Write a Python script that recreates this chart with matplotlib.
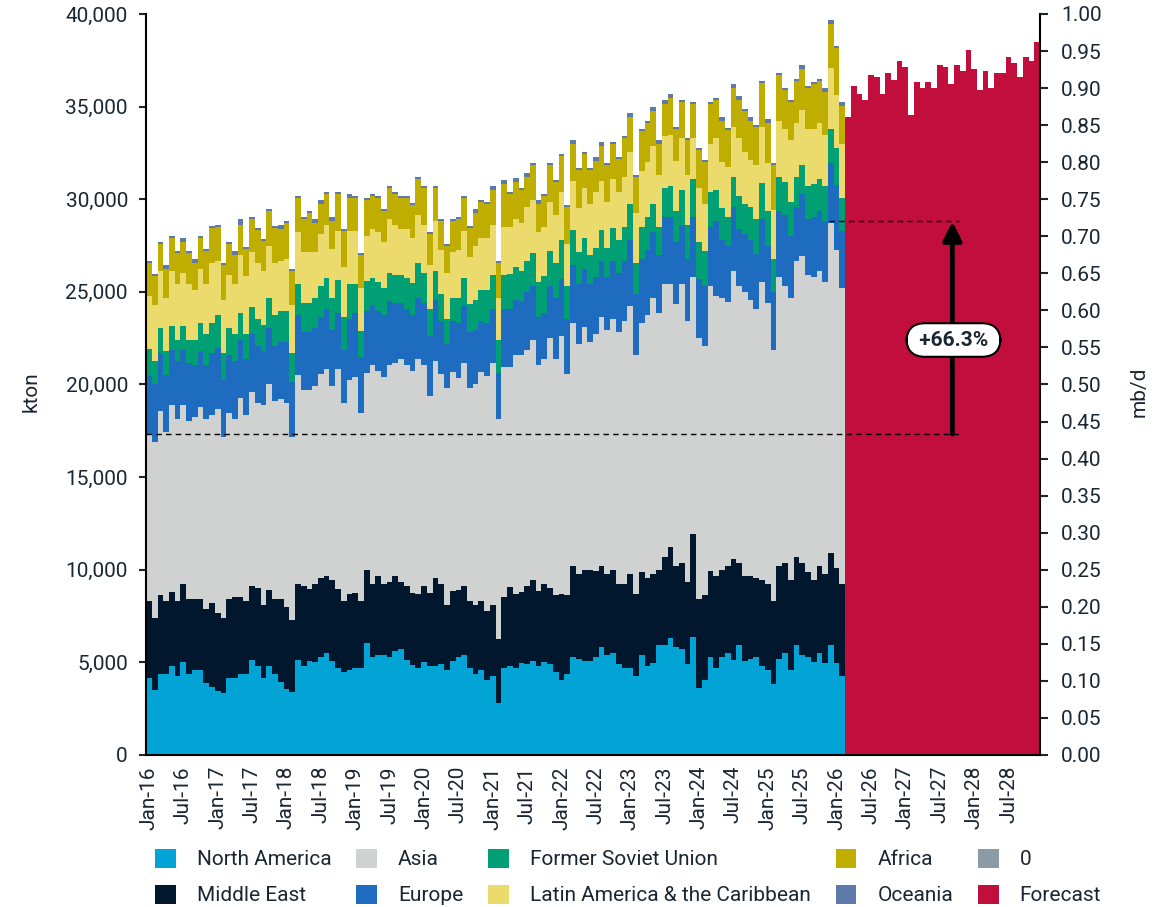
import matplotlib
matplotlib.use("Agg")
import matplotlib.pyplot as plt
from matplotlib.patches import Patch
import numpy as np
import pandas as pd

plt.rcParams['font.family'] = ['Roboto', 'DejaVu Sans']

# monthly kton, Jan-16 .. Feb-26 (historical)
north_america = [4175, 3509, 4372, 4372, 4804, 4264, 5020, 4372, 4588, 4588,
                 3887, 3671, 3455, 3347, 4156, 4156, 4372, 4372, 5128, 4804,
                 4156, 4804, 4372, 3941, 3563, 3401, 5128, 4804, 5074, 5020,
                 5290, 5506, 5074, 4696, 4480, 4588, 4696, 4696, 6046, 5290,
                 5398, 5398, 5290, 5614, 5722, 5128, 4858, 4696, 5020, 4804,
                 4804, 4912, 4588, 5074, 5290, 5398, 4696, 4372, 4588, 4048,
                 4264, 2807, 4696, 4804, 4696, 4966, 4912, 5074, 4804, 5020,
                 4912, 4480, 4048, 4372, 5290, 5182, 5074, 5074, 5290, 5830,
                 5398, 5506, 4912, 4696, 4696, 4264, 5398, 4804, 4966, 5938,
                 5938, 6316, 5830, 5722, 4912, 6370, 3617, 4048, 5290, 4696,
                 5290, 5506, 5128, 5938, 5074, 5182, 5290, 4804, 4588, 3833,
                 5182, 5506, 4588, 5938, 5398, 5290, 5020, 5506, 4966, 5938,
                 4966, 4264]
middle_east = [4138, 3886, 4265, 3941, 3995, 4049, 4211, 4049, 3833, 3833,
               3994, 4534, 4210, 4048, 4265, 4373, 4157, 3941, 3995, 4211,
               3941, 4103, 4049, 4480, 4426, 3886, 4103, 4319, 3887, 4211,
               4265, 4157, 4373, 4265, 3833, 4103, 4049, 3617, 3940, 3941,
               4265, 3833, 4049, 4049, 3617, 3995, 3887, 3995, 4103, 3941,
               4751, 4319, 3509, 3779, 3617, 3725, 3617, 3725, 3725, 3725,
               3833, 3455, 3833, 4265, 3995, 3833, 4211, 4373, 4049, 4211,
               4103, 4157, 4643, 4265, 4912, 4589, 4912, 4912, 4642, 4372,
               4373, 4480, 4319, 4535, 5075, 4427, 4480, 4751, 4805, 4048,
               4750, 4912, 4372, 4642, 4427, 5560, 4804, 4589, 4642, 4967,
               4696, 4696, 5452, 4426, 4589, 4481, 4265, 4643, 4643, 4480,
               5020, 4858, 4859, 4750, 4966, 4588, 4427, 4696, 4805, 4966,
               5128, 4967]
asia = [9018, 9504, 9935, 9125, 10097, 9827, 9665, 9611, 9827, 10367,
        10259, 10151, 11015, 9756, 10043, 9611, 10744, 10043, 10474, 9989,
        10799, 11122, 10691, 10798, 11015, 9864, 11284, 10582, 10744, 10690,
        11014, 11176, 10474, 11878, 10691, 11554, 11662, 10151, 10637, 11823,
        11068, 11177, 11716, 11500, 12040, 11932, 11986, 12688, 11932, 10655,
        11716, 11339, 11717, 11824, 11447, 12040, 11501, 11933, 12364, 12689,
        13066, 11879, 12418, 11878, 12904, 12796, 12742, 12957, 12202, 12148,
        13497, 12742, 13929, 11933, 13120, 12418, 13120, 12311, 12796, 13444,
        13173, 13552, 13606, 14199, 14469, 12904, 13444, 14199, 14900, 13876,
        14739, 14199, 14146, 15063, 14091, 13875, 14092, 13444, 15387, 15116,
        14685, 14254, 15549, 14955, 15332, 14901, 14523, 16088, 15171, 13552,
        15603, 14955, 15224, 15980, 16574, 16035, 16358, 15927, 15764, 17800,
        17168, 15980]
europe = [3132, 3132, 3132, 3078, 2970, 3132, 2970, 3132, 2808, 3024,
          2916, 3348, 3294, 3096, 3132, 3132, 3132, 3024, 3132, 3078,
          2916, 3024, 2970, 3078, 3294, 2988, 3240, 3132, 3132, 3132,
          3078, 3240, 3024, 3024, 2862, 3294, 3456, 3024, 3348, 3240,
          3240, 3348, 3456, 3240, 3024, 3024, 3024, 3294, 3348, 3222,
          3294, 2862, 2376, 2754, 2970, 3132, 3024, 2916, 2754, 2862,
          2916, 2484, 3132, 3132, 2970, 2862, 3132, 2916, 2592, 2484,
          2808, 3294, 3078, 2970, 3132, 3240, 3132, 3132, 3078, 3024,
          2862, 3132, 3186, 3240, 3564, 3294, 3456, 3510, 3564, 3132,
          3618, 3618, 3348, 3186, 3348, 3240, 3186, 3240, 3186, 4050,
          3132, 3024, 3456, 3078, 3132, 3240, 2970, 3402, 3078, 3132,
          3564, 3834, 3348, 2916, 3348, 3024, 3240, 3240, 3294, 3240,
          3510, 3078]
former_soviet_union = [1458, 1242, 1350, 1296, 1296, 1134, 1296, 1242, 1350, 1512,
                       1674, 1620, 1782, 1458, 1458, 1458, 1458, 1350, 1458, 1458,
                       1404, 1620, 1674, 1674, 1674, 1566, 1674, 1566, 1566, 1620,
                       1674, 1674, 1728, 1782, 1782, 1890, 1566, 1404, 1620, 1458,
                       1566, 1458, 1512, 1512, 1512, 1674, 1728, 1890, 1620, 1458,
                       1566, 1458, 1350, 1242, 1350, 1458, 1512, 1620, 1674, 1782,
                       1836, 1782, 1836, 1890, 1782, 1674, 1674, 1782, 1890, 1998,
                       1890, 1890, 2106, 1782, 1890, 1728, 1674, 1566, 1566, 1674,
                       1566, 1782, 1782, 1836, 1944, 1674, 1728, 1782, 1512, 1512,
                       1566, 1674, 1674, 1890, 1836, 2052, 1998, 1890, 1890, 1674,
                       1728, 1566, 1620, 1782, 1620, 1782, 1890, 1944, 1890, 1782,
                       1836, 1782, 1836, 1620, 1566, 1782, 1782, 1728, 1890, 1836,
                       1998, 1782]
latin_america = [2862, 3024, 3078, 2862, 2970, 3024, 2862, 3024, 2700, 2916,
                 2700, 3240, 2916, 2862, 2862, 2700, 3132, 3132, 2970, 3024,
                 2916, 2808, 2808, 2700, 2808, 2592, 2808, 2754, 2754, 2484,
                 2808, 2862, 2646, 2646, 2700, 2862, 2862, 2322, 2430, 2646,
                 2700, 2484, 2916, 2700, 2484, 2646, 2430, 2592, 2592, 2376,
                 2700, 2376, 2484, 2484, 2592, 2538, 2538, 2916, 2808, 2808,
                 2700, 2268, 2592, 2538, 2592, 2592, 2916, 2862, 2700, 2646,
                 2646, 2592, 2592, 2268, 2646, 2376, 2700, 2754, 3024, 2646,
                 2484, 2646, 2592, 2700, 2808, 2700, 3024, 2970, 3132, 2808,
                 2808, 2754, 2700, 2808, 2700, 2214, 2916, 2538, 2592, 2808,
                 2484, 2700, 2700, 3132, 2808, 2538, 2916, 3024, 2592, 2646,
                 3024, 2862, 3348, 2916, 2970, 3078, 2970, 3024, 2754, 3294,
                 2862, 2916]
africa = [1782, 1566, 1458, 1566, 1782, 1674, 1674, 1674, 1458, 1674,
          1782, 1890, 1836, 1890, 1674, 1566, 1620, 1458, 1782, 1782,
          1620, 1890, 1890, 1728, 1944, 1836, 1836, 1782, 2106, 1566,
          1620, 1674, 1512, 1998, 1944, 1782, 1782, 1782, 1944, 1782,
          1836, 1674, 1674, 1674, 1674, 1674, 1782, 1944, 1998, 1674,
          1782, 1566, 1458, 1674, 1674, 1782, 1566, 1782, 1944, 1836,
          1890, 1890, 2322, 1782, 1998, 1782, 1620, 1890, 1512, 1674,
          1998, 1782, 1944, 1998, 1998, 2052, 1836, 1836, 1674, 1890,
          1998, 1890, 1782, 2106, 1890, 1944, 2160, 2106, 1890, 1674,
          1728, 1998, 1728, 1944, 1890, 1836, 2052, 2268, 2160, 2052,
          2214, 1998, 2106, 2052, 2214, 2106, 2052, 2376, 2160, 2430,
          2484, 2106, 2052, 2268, 2214, 2214, 2430, 2268, 2322, 2400,
          2538, 2052]
oceania = [108, 108, 108, 216, 108, 108, 216, 108, 216, 108,
           108, 108, 108, 108, 108, 216, 324, 108, 108, 108,
           108, 108, 108, 216, 108, 108, 108, 108, 108, 216,
           216, 108, 216, 108, 108, 216, 108, 108, 108, 108,
           108, 108, 108, 108, 108, 108, 108, 108, 108, 108,
           108, 108, 108, 108, 108, 108, 108, 216, 108, 108,
           216, 108, 216, 108, 216, 108, 216, 108, 216, 108,
           108, 108, 108, 108, 216, 108, 108, 108, 216, 216,
           108, 108, 108, 108, 216, 108, 108, 108, 216, 216,
           216, 216, 108, 108, 108, 108, 108, 108, 108, 108,
           216, 108, 216, 216, 108, 216, 108, 108, 216, 108,
           108, 108, 108, 108, 216, 108, 108, 108, 216, 216,
           108, 216]
other_zero = [0] * 122

# forecast totals, Mar-26 .. Dec-28
forecast = [34440, 36113, 35681, 35358, 36707, 36599, 35681, 36815, 36437, 37462,
            37139, 34548, 36329, 36005, 36329, 36005, 37246, 37139, 36221, 37246,
            36923, 38056, 37031, 35897, 36923, 36005, 36815, 36815, 37678, 37354,
            36599, 37678, 37462, 38488]

series = [
    ("North America", north_america, "#02A4D5"),
    ("Middle East", middle_east, "#00172D"),
    ("Asia", asia, "#D0D2D1"),
    ("Europe", europe, "#1E6CC0"),
    ("Former Soviet Union", former_soviet_union, "#00A074"),
    ("Latin America & the Caribbean", latin_america, "#EADB6C"),
    ("Africa", africa, "#BFAE00"),
    ("Oceania", oceania, "#5E7AAB"),
    ("0", other_zero, "#8C9AA6"),
]
forecast_color = "#C20E3C"
text_color = "#1B2633"

n_hist = len(north_america)
n_all = n_hist + len(forecast)
x = np.arange(n_all)
months = pd.date_range("2016-01-01", periods=n_all, freq="MS")
month_labels = months.strftime("%b-%y")

fig = plt.figure(figsize=(11.61, 9.07), dpi=100)
ax = fig.add_axes([0.1258, 0.1676, 0.7700, 0.8170])

bottom = np.zeros(n_hist)
handles = []
for name, vals, col in series:
    vals = np.array(vals, dtype=float)
    ax.bar(x[:n_hist], vals, bottom=bottom, width=1.0, color=col, linewidth=0)
    bottom += vals
    handles.append(Patch(facecolor=col, label=name))
ax.bar(x[n_hist:], forecast, width=1.0, color=forecast_color, linewidth=0)
handles.append(Patch(facecolor=forecast_color, label="Forecast"))

ax.set_xlim(-0.5, n_all - 0.5)
ax.set_ylim(0, 40000)
ax.set_yticks(np.arange(0, 40001, 5000))
ax.set_yticklabels([f"{v:,}" for v in range(0, 40001, 5000)])
ax.set_xticks(x[::6])
ax.set_xticklabels(month_labels[::6], rotation=90)
ax.tick_params(axis="x", length=0, pad=8, labelsize=15, colors=text_color)
ax.tick_params(axis="y", length=5, width=1.5, pad=8, labelsize=15, colors=text_color)
ax.set_ylabel("kton", fontsize=15, color=text_color)
ax.yaxis.set_label_coords(-0.118, 0.49)
for s in ["left", "bottom"]:
    ax.spines[s].set_linewidth(1.5)
ax.spines["top"].set_visible(False)
ax.spines["right"].set_visible(False)

ax2 = ax.twinx()
ax2.set_ylim(0, 1)
rt = np.arange(0, 1.0001, 0.05)
ax2.set_yticks(rt)
ax2.set_yticklabels([f"{v:.2f}" for v in rt])
ax2.tick_params(axis="y", length=6, width=1.5, pad=9, labelsize=15, colors=text_color)
ax2.set_ylabel("mb/d", fontsize=15, color=text_color)
ax2.yaxis.set_label_coords(1.10, 0.49)
ax2.spines["right"].set_linewidth(1.5)
ax2.spines["top"].set_visible(False)
ax2.spines["left"].set_visible(False)
ax2.spines["bottom"].set_visible(False)

# growth annotation
low, high = 17330, 28800
ax.hlines(low, -0.5, 141.4, colors="black", linestyles=(0, (4, 3)), lw=1, zorder=5)
ax.hlines(high, 118.7, 141.4, colors="black", linestyles=(0, (4, 3)), lw=1, zorder=5)
ax.annotate("", xy=(140.2, high), xytext=(140.2, low),
            arrowprops=dict(arrowstyle="-|>", lw=3.5, color="black", mutation_scale=28,
                            shrinkA=0, shrinkB=0), zorder=6)
ax.text(140.4, 22400, " +66.3% ", ha="center", va="center", fontsize=15,
        fontweight="bold", color=text_color, zorder=7,
        bbox=dict(boxstyle="round,pad=0.35,rounding_size=0.9", fc="white",
                  ec="black", lw=1.5))

fig.legend(handles=handles, loc="upper left", bbox_to_anchor=(0.1335, 0.064),
           ncol=5, frameon=False, fontsize=15, handlelength=1.0, handleheight=1.0,
           handletextpad=1.0, columnspacing=1.2, labelspacing=0.75,
           borderpad=0, borderaxespad=0, labelcolor=text_color)

fig.savefig("out.png", dpi=100)
